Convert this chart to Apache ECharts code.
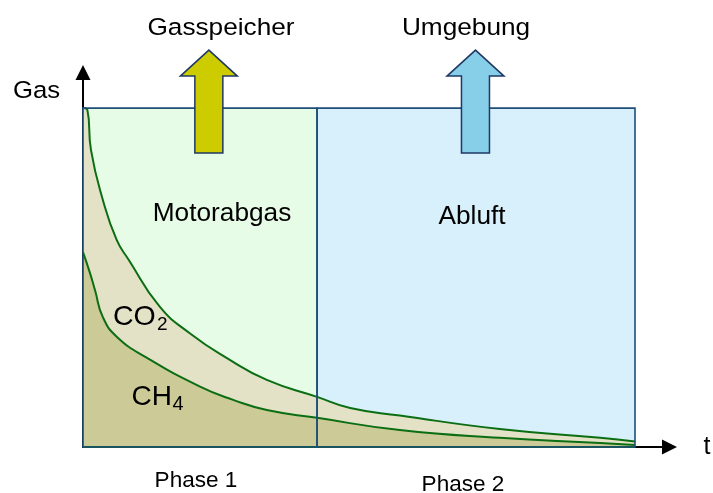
<!DOCTYPE html>
<html>
<head>
<meta charset="utf-8">
<script src="https://cdn.jsdelivr.net/npm/echarts@6/dist/echarts.min.js"></script>
<style>
  html, body { margin: 0; padding: 0; background: #ffffff; }
  #chart { width: 713px; height: 493px; }
</style>
</head>
<body>
<div id="chart"></div>
<script>
// Time axis t runs 0..100 over both phases; gas share in % of the full volume.
const phaseBounds = [0, 42.4, 100];
const phaseNames = ['Phase 1', 'Phase 2'];
const phaseTitles = ['Motorabgas', 'Abluft'];
const phaseTargets = ['Gasspeicher', 'Umgebung'];

// Upper curve: CH4 + CO2 together
const upperT = [0, 0.8, 1.45, 3.6, 6.1, 8.3, 13.9, 19.4, 26.0, 33.3, 42.4, 48.4, 57.4, 75.5, 93.7, 100];
const upperV = [100, 99.4, 87.6, 72.9, 61.1, 55.2, 41.4, 33.5, 26.3, 19.8, 14.8, 11.5, 9.3, 5.3, 2.7, 1.6];

// Lower curve: CH4 alone
const ch4T = [0, 1.27, 2.17, 3.6, 6.2, 11.6, 21.2, 27.2, 33.3, 42.4, 57.4, 75.5, 93.7, 100];
const ch4V = [57.5, 51.3, 46.3, 38.3, 32.4, 26.3, 17.8, 13.9, 10.9, 8.6, 5.0, 2.7, 1.2, 0.6];

// Where the gas leaves the system during each phase
const arrowT = [22.8, 71.1];
const arrowColors = ['#CCCC00', '#87CEE8'];

const phaseFills = ['#E7FCE7', '#D7F0FB'];
const curveColor = '#0B6E12';
const frameColor = '#1F4E79';
const fontFamily = '"Liberation Sans", Arial, Helvetica, sans-serif';

const pairs = (xs, ys) => xs.map((x, i) => [x, ys[i]]);

const chart = echarts.init(document.getElementById('chart'), null, { renderer: 'canvas' });

const phaseAreas = (fill) => phaseNames.map((_, i) => [
  { xAxis: phaseBounds[i], yAxis: 0, itemStyle: fill ? { color: phaseFills[i] } : undefined },
  { xAxis: phaseBounds[i + 1], yAxis: 100 }
]);

function txt(text, x, y, size, opts) {
  const o = opts || {};
  return {
    type: 'text',
    x: x, y: y,
    scaleX: o.scaleX || 1,
    z: 20,
    silent: true,
    style: {
      text: text,
      fontSize: size,
      fontFamily: fontFamily,
      fill: '#000',
      align: o.align || 'center',
      textAlign: o.align || 'center',
      verticalAlign: 'middle',
      textVerticalAlign: 'middle'
    }
  };
}

chart.setOption({
  animation: false,
  grid: { left: 83, right: 43.5, top: 72.5, bottom: 46, containLabel: false, outerBoundsMode: 'none' },
  xAxis: {
    type: 'value', min: 0, max: 106.25,
    axisLine: { show: true, onZero: false, symbol: ['none', 'triangle'], symbolSize: [15, 15],
      lineStyle: { color: '#000', width: 2 } },
    axisTick: { show: false }, axisLabel: { show: false }, splitLine: { show: false }
  },
  yAxis: {
    type: 'value', min: 0, max: 110.5,
    axisLine: { show: true, onZero: false, symbol: ['none', 'triangle'], symbolSize: [15, 15],
      lineStyle: { color: '#000', width: 2 } },
    axisTick: { show: false }, axisLabel: { show: false }, splitLine: { show: false }
  },
  series: [
    {
      // phase backgrounds
      type: 'line', data: [[0, 0]], symbol: 'none', lineStyle: { opacity: 0 }, silent: true,
      markArea: { z: 1, silent: true, itemStyle: { borderWidth: 0 }, data: phaseAreas(true) }
    },
    {
      name: 'CO2', type: 'line', data: pairs(upperT, upperV), smooth: 0.5,
      symbol: 'none', z: 2,
      lineStyle: { color: curveColor, width: 2 },
      areaStyle: { color: '#E3E1C6', opacity: 1 }
    },
    {
      name: 'CH4', type: 'line', data: pairs(ch4T, ch4V), smooth: 0.5,
      symbol: 'none', z: 3,
      lineStyle: { color: curveColor, width: 2 },
      areaStyle: { color: '#CCCB98', opacity: 1 }
    },
    {
      // ground line of the gas areas
      type: 'line', data: [[phaseBounds[0], 0], [phaseBounds[2], 0]], symbol: 'none', z: 4,
      lineStyle: { color: curveColor, width: 2 }, silent: true
    },
    {
      // phase frames drawn above the curves
      type: 'line', data: [[0, 0]], symbol: 'none', lineStyle: { opacity: 0 }, silent: true,
      markArea: { z: 6, silent: true,
        itemStyle: { color: 'rgba(0,0,0,0)', borderColor: frameColor, borderWidth: 1.6 },
        data: phaseAreas(false) }
    },
    {
      // discharge arrows above each phase
      type: 'custom', z: 10, clip: false, silent: true,
      data: arrowT.map((t, i) => ({ value: [t, 100], itemStyle: { color: arrowColors[i] } })),
      encode: { x: 0, y: 1 },
      renderItem: function (params, api) {
        const p = api.coord([api.value(0), api.value(1)]);
        const cx = p[0], top = p[1];
        return {
          type: 'polygon',
          shape: { points: [
            [cx - 14, top + 45], [cx + 14, top + 45], [cx + 14, top - 32],
            [cx + 28.5, top - 32], [cx, top - 58], [cx - 28.5, top - 32], [cx - 14, top - 32]
          ] },
          style: { fill: api.visual('color'), stroke: '#1F3864', lineWidth: 1.5 }
        };
      }
    }
  ],
  graphic: [
    txt('Gas', 36.5, 91, 24.5, { scaleX: 1.05 }),
    txt('t', 707, 447, 25),
    txt(phaseTargets[0], 221, 28, 24.5, { scaleX: 1.07 }),
    txt(phaseTargets[1], 466, 28, 24.5, { scaleX: 1.07 }),
    txt(phaseTitles[0], 222, 214, 25, { scaleX: 1.05 }),
    txt(phaseTitles[1], 472, 217, 25, { scaleX: 1.05 }),
    txt(phaseNames[0], 196, 481, 21.5, { scaleX: 1.05 }),
    txt(phaseNames[1], 463, 485, 21.5, { scaleX: 1.05 }),
    txt('CO', 113, 317, 28.5, { align: 'left' }),
    txt('2', 157, 325, 19, { align: 'left' }),
    txt('CH', 131.5, 397, 28, { align: 'left' }),
    txt('4', 172.5, 404.5, 20, { align: 'left' })
  ]
});
</script>
</body>
</html>
